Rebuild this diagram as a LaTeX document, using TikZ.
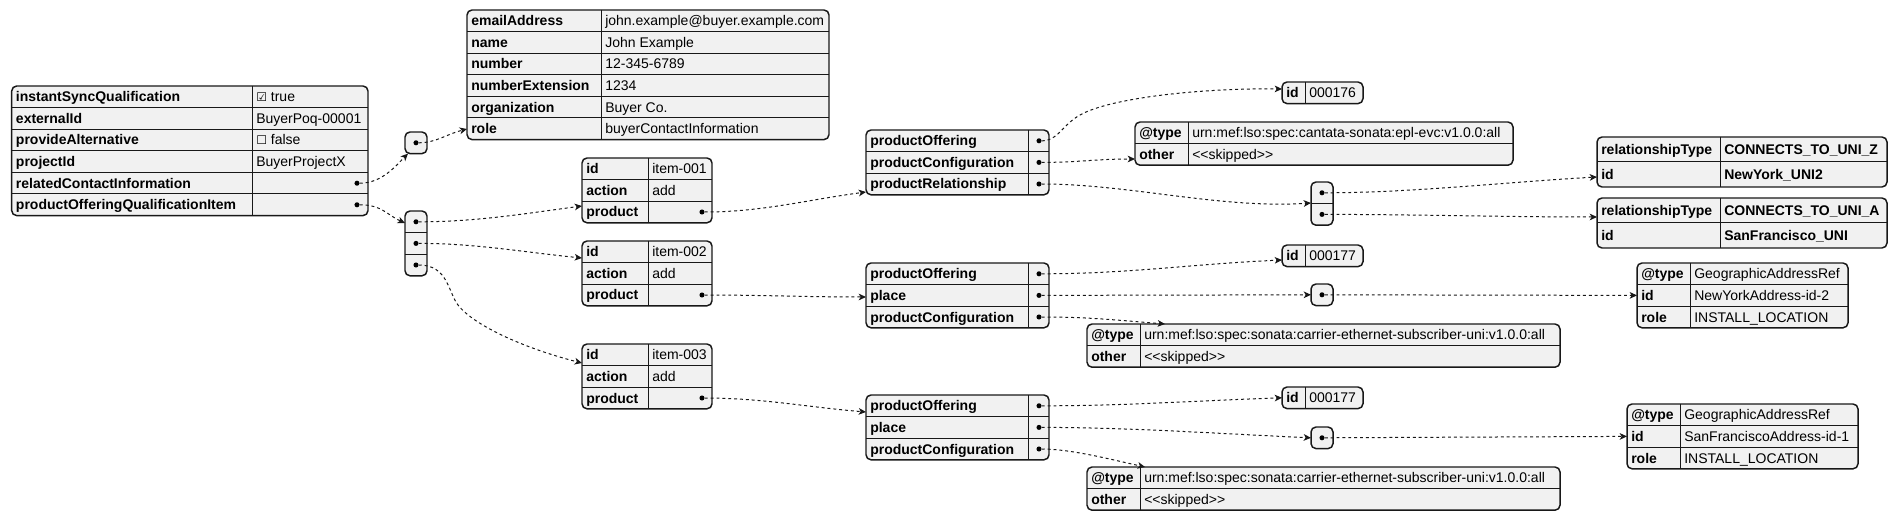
\documentclass[tikz,border=0pt]{standalone}
\usepackage{fontspec}
\setmainfont{Liberation Sans}
\newfontfamily\symfont{DejaVu Sans}
\usetikzlibrary{arrows.meta,calc}
\definecolor{jsonfill}{HTML}{F1F1F1}
\definecolor{jsonline}{HTML}{181818}
\tikzset{
  tblbox/.style={rectangle, draw=jsonline, fill=jsonfill, line width=1.1pt, rounded corners=3.75pt, inner sep=0pt, outer sep=0pt},
  rowline/.style={draw=jsonline, line width=0.75pt},
  keytext/.style={anchor=base west, inner sep=0pt, font=\fontsize{10.5}{12}\selectfont\bfseries},
  valtext/.style={anchor=base west, inner sep=0pt, font=\fontsize{10.5}{12}\selectfont},
  jdot/.style={circle, fill=black, inner sep=0pt, minimum size=3.8pt},
  link/.style={draw=jsonline, line width=0.75pt, dash pattern=on 2.2pt off 2.2pt, -{Stealth[length=5.5pt,width=5pt,inset=1.5pt]}}
}
\def\rowh{21.6}
% name, left, top, split, right, rows, key/value list
\newcommand{\jtable}[7]{%
  \node[tblbox, anchor=north west, minimum width={(#5-#2)*0.75pt}, minimum height={#6*\rowh*0.75pt}] (#1) at (#2,#3) {};
  \draw[rowline] (#4,#3) -- (#4,{#3+#6*\rowh});
  \foreach \k/\v [count=\i] in {#7} {
    \ifnum\i>1 \draw[rowline] (#2,{#3+(\i-1)*\rowh}) -- (#5,{#3+(\i-1)*\rowh}); \fi
    \node[keytext] (#1-k\i) at ({#2+4},{#3+(\i-0.5)*\rowh+5}) {\k};
    \node[valtext] (#1-v\i) at ({#4+4},{#3+(\i-0.5)*\rowh+5}) {\v};
  }
}
% name, left, top, right, rows
\newcommand{\jarray}[5]{%
  \node[tblbox, anchor=north west, minimum width={(#4-#2)*0.75pt}, minimum height={#5*\rowh*0.75pt}] (#1) at (#2,#3) {};
  \foreach \i in {1,...,#5} {
    \ifnum\i>1 \draw[rowline] (#2,{#3+(\i-1)*\rowh}) -- (#4,{#3+(\i-1)*\rowh}); \fi
    \node[jdot] (#1-d\i) at ({(#2+#4)/2},{#3+(\i-0.5)*\rowh}) {};
  }
}
\begin{document}
\begin{tikzpicture}[x=0.75pt, y=-0.75pt]
\useasboundingbox (0,0) rectangle (1898,520);
% root
\jtable{root}{11.7}{86}{252}{368}{6}{instantSyncQualification/{\symfont\fontsize{9}{10}\selectfont ☑} true, externalId/BuyerPoq-00001, provideAlternative/{\symfont\fontsize{9}{10}\selectfont ☐} false, projectId/BuyerProjectX, relatedContactInformation/{}, productOfferingQualificationItem/{}}
\foreach \i in {5,6} \node[jdot] (root-d\i) at ($(root.north east)+(-11,{(\i-0.5)*\rowh})$) {};
% contact
\jarray{contacts}{405}{132}{427}{1}
\jtable{contact}{467}{10}{601}{829}{6}{emailAddress/john.example@buyer.example.com, name/John Example, number/12-345-6789, numberExtension/1234, organization/Buyer Co., role/buyerContactInformation}
% items
\jarray{items}{405}{211}{427}{3}
\jtable{item1}{582}{158}{648}{712}{3}{id/item-001, action/add, product/{}}
\jtable{item2}{582}{241}{648}{712}{3}{id/item-002, action/add, product/{}}
\jtable{item3}{582}{344}{648}{712}{3}{id/item-003, action/add, product/{}}
\foreach \t in {item1,item2,item3} \node[jdot] (\t-d3) at ($(\t.north east)+(-10,{2.5*\rowh})$) {};
% products
\jtable{prod1}{866}{130}{1028}{1049}{3}{productOffering/{}, productConfiguration/{}, productRelationship/{}}
\jtable{prod2}{866}{263}{1028}{1049}{3}{productOffering/{}, place/{}, productConfiguration/{}}
\jtable{prod3}{866}{395}{1028}{1049}{3}{productOffering/{}, place/{}, productConfiguration/{}}
\foreach \t in {prod1,prod2,prod3}
  \foreach \i in {1,2,3} \node[jdot] (\t-d\i) at ($(\t.north east)+(-10,{(\i-0.5)*\rowh})$) {};
% first product
\jtable{offer1}{1282}{82}{1305}{1363}{1}{id/000176}
\jtable{config1}{1135}{122}{1188}{1513}{2}{@type/urn:mef:lso:spec:cantata-sonata:epl-evc:v1.0.0:all, other/<\kern0pt<skipped>\kern0pt>}
\jarray{rels}{1311}{182}{1333}{2}
\begin{scope}
  \def\rowh{25}
  \jtable{rel1}{1597}{137}{1720}{1887}{2}{relationshipType/\textbf{CONNECTS\_TO\_UNI\_Z}, id/\textbf{NewYork\_UNI2}}
  \jtable{rel2}{1597}{198}{1720}{1887}{2}{relationshipType/\textbf{CONNECTS\_TO\_UNI\_A}, id/\textbf{SanFrancisco\_UNI}}
\end{scope}
% second product
\jtable{offer2}{1282}{245}{1305}{1363}{1}{id/000177}
\jarray{place2}{1311}{284}{1333}{1}
\jtable{config2}{1087}{324}{1140}{1560}{2}{@type/urn:mef:lso:spec:sonata:carrier-ethernet-subscriber-uni:v1.0.0:all, other/<\kern0pt<skipped>\kern0pt>}
\jtable{addr2}{1637}{263}{1690}{1848}{3}{@type/GeographicAddressRef, id/NewYorkAddress-id-2, role/INSTALL\_LOCATION}
% third product
\jtable{offer3}{1282}{387}{1305}{1363}{1}{id/000177}
\jarray{place3}{1311}{427}{1333}{1}
\jtable{config3}{1087}{467}{1140}{1560}{2}{@type/urn:mef:lso:spec:sonata:carrier-ethernet-subscriber-uni:v1.0.0:all, other/<\kern0pt<skipped>\kern0pt>}
\jtable{addr3}{1627}{404}{1680}{1858}{3}{@type/GeographicAddressRef, id/SanFranciscoAddress-id-1, role/INSTALL\_LOCATION}
% links
\draw[link] (root-d5) .. controls +(25,0) and +(-12,12) .. ($(contacts.south west)+(3,0)$);
\draw[link] (root-d6) .. controls +(25,0) and +(-18,-8) .. ($(items.north west)+(0,12)$);
\draw[link] (contacts-d1) .. controls +(20,0) and +(-20,5) .. ($(contact.north west)+(0,119)$);
\draw[link] (items-d1) .. controls +(60,0) and +(-60,8) .. ($(item1.north west)+(0,48)$);
\draw[link] (items-d2) .. controls +(60,0) and +(-60,-6) .. ($(item2.north west)+(0,17)$);
\draw[link] (items-d3) .. controls (448,265) and (448,292) .. (458,305) .. controls (475,327) and (530,350) .. ($(item3.north west)+(0,19)$);
\draw[link] (item1-d3) .. controls +(60,0) and +(-60,8) .. ($(prod1.north west)+(0,62)$);
\draw[link] (item2-d3) .. controls +(60,0) and +(-60,0) .. ($(prod2.north west)+(0,34)$);
\draw[link] (item3-d3) .. controls +(60,0) and +(-60,-5) .. ($(prod3.north west)+(0,17)$);
\draw[link] (prod1-d1) .. controls (1058,141) and (1062,125) .. (1080,115) .. controls (1110,98) and (1200,88) .. ($(offer1.north west)+(0,7)$);
\draw[link] (prod1-d2) .. controls +(40,0) and +(-40,0) .. ($(config1.north west)+(0,37)$);
\draw[link] (prod1-d3) .. controls +(90,0) and +(-90,6) .. ($(rels.north west)+(0,21)$);
\draw[link] (rels-d1) .. controls +(90,0) and +(-90,5) .. ($(rel1.north west)+(0,40)$);
\draw[link] (rels-d2) .. controls +(90,0) and +(-90,0) .. ($(rel2.north west)+(0,19)$);
\draw[link] (prod2-d1) .. controls +(90,0) and +(-90,4) .. ($(offer2.north west)+(0,15)$);
\draw[link] (prod2-d2) -- (place2.west);
\draw[link] (prod2-d3) .. controls +(50,0) and +(-50,-4) .. ($(config2.north west)+(78,0)$);
\draw[link] (place2-d1) -- (addr2.west);
\draw[link] (prod3-d1) .. controls +(90,0) and +(-90,3) .. (offer3.west);
\draw[link] (prod3-d2) .. controls +(90,0) and +(-90,-4) .. (place3.west);
\draw[link] (prod3-d3) .. controls +(30,0) and +(-40,-9) .. ($(config3.north west)+(58,0)$);
\draw[link] (place3-d1) -- (addr3.west);
\end{tikzpicture}
\end{document}
